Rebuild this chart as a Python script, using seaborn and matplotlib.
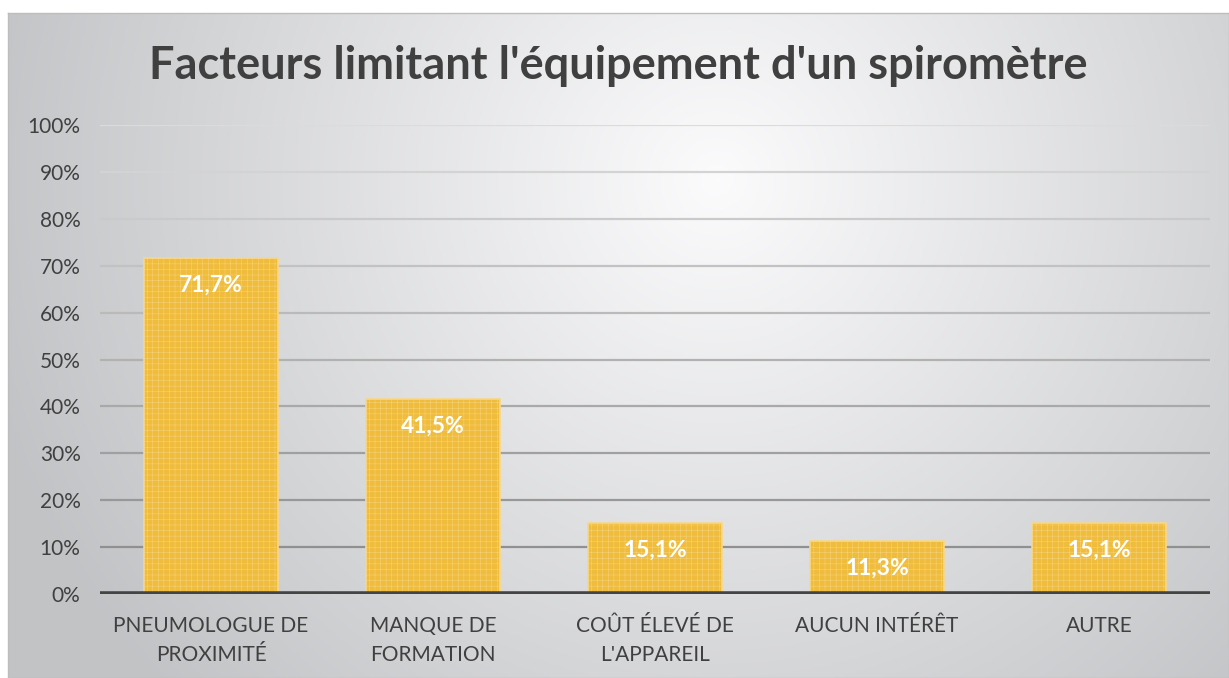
import numpy as np
import pandas as pd
import matplotlib
matplotlib.use("Agg")
import matplotlib.pyplot as plt
import seaborn as sns

categories = ["PNEUMOLOGUE DE\nPROXIMITÉ", "MANQUE DE\nFORMATION", "COÛT ÉLEVÉ DE\nL'APPAREIL", "AUCUN INTÉRÊT", "AUTRE"]
values = [71.7, 41.5, 15.1, 11.3, 15.1]
value_labels = ["71,7%", "41,5%", "15,1%", "11,3%", "15,1%"]
yticks = [0, 10, 20, 30, 40, 50, 60, 70, 80, 90, 100]
title = "Facteurs limitant l'équipement d'un spiromètre"

sns.set_theme(style="white")
plt.rcParams['font.family'] = ['Lato', 'DejaVu Sans']
plt.rcParams['hatch.linewidth'] = 0.3

W, H = 1229, 678
fig = plt.figure(figsize=(W / 100, H / 100), dpi=100)
fig.patch.set_facecolor("white")

# background with radial gradient
bx0, by1 = 8 / W, 13 / H
bg = fig.add_axes([bx0, 0, 1 - bx0, 1 - by1])
ny, nx = 300, 600
yy, xx = np.mgrid[0:ny, 0:nx]
cx, cy = 0.58 * nx, 0.25 * ny
r = np.sqrt(((xx - cx) / nx) ** 2 + ((yy - cy) / ny * 0.55) ** 2)
r = np.clip(r / 0.62, 0, 1)
c0 = np.array([0.985, 0.985, 0.99])
c1 = np.array([0.76, 0.765, 0.775])
img = c0[None, None, :] * (1 - r[..., None]) + c1[None, None, :] * r[..., None]
bg.imshow(img, aspect="auto", extent=[0, 1, 0, 1], origin="upper")
bg.set_xlim(0, 1); bg.set_ylim(0, 1)
for s in bg.spines.values():
    s.set_color("#bdbdbd"); s.set_linewidth(1)
bg.set_xticks([]); bg.set_yticks([])

# plot axes
left, right = 100 / W, 1210 / W
bottom, top = 1 - 594 / H, 1 - 125 / H
ax = fig.add_axes([left, bottom, right - left, top - bottom])
ax.patch.set_alpha(0)

df = pd.DataFrame({"cat": categories, "val": values})
sns.barplot(data=df, x="cat", y="val", color="#F0BC3C", width=0.6, ax=ax,
            saturation=1, edgecolor="#F7D78A", linewidth=1.2, zorder=3)
for p in ax.patches:
    p.set_hatch("+++")

ax.set_ylim(0, 100)
ax.set_xlim(-0.5, 4.5)
ax.set_yticks(yticks)
ax.set_yticklabels([f"{t}%" for t in yticks], fontsize=15, color="#404040")
ax.tick_params(axis="y", length=0, pad=14)
ax.tick_params(axis="x", length=0, pad=16)
ax.set_xticklabels(categories, fontsize=15, color="#404040", linespacing=1.55)
ax.set_xlabel(""); ax.set_ylabel("")
for s in ax.spines.values():
    s.set_visible(False)

# gridlines: darker towards bottom
for t in yticks[1:]:
    g = 0.86 - 0.33 * (1 - t / 100)
    ax.axhline(t, color=(g, g, g), lw=1.6, zorder=1)
ax.axhline(0, color="#444444", lw=4, zorder=4, xmin=-0.005, xmax=1)

for i, (v, lab) in enumerate(zip(values, value_labels)):
    ax.annotate(lab, (i, v), xytext=(0, -27), textcoords="offset pixels",
                ha="center", va="center", fontsize=16.5, fontweight="bold", color="white", zorder=5)

fig.text(0.5 + 4 / W, 1 - 66 / H, title, ha="center", va="center", fontsize=32.5,
         fontweight="bold", color="#404040")

fig.savefig("out.png", dpi=100)
